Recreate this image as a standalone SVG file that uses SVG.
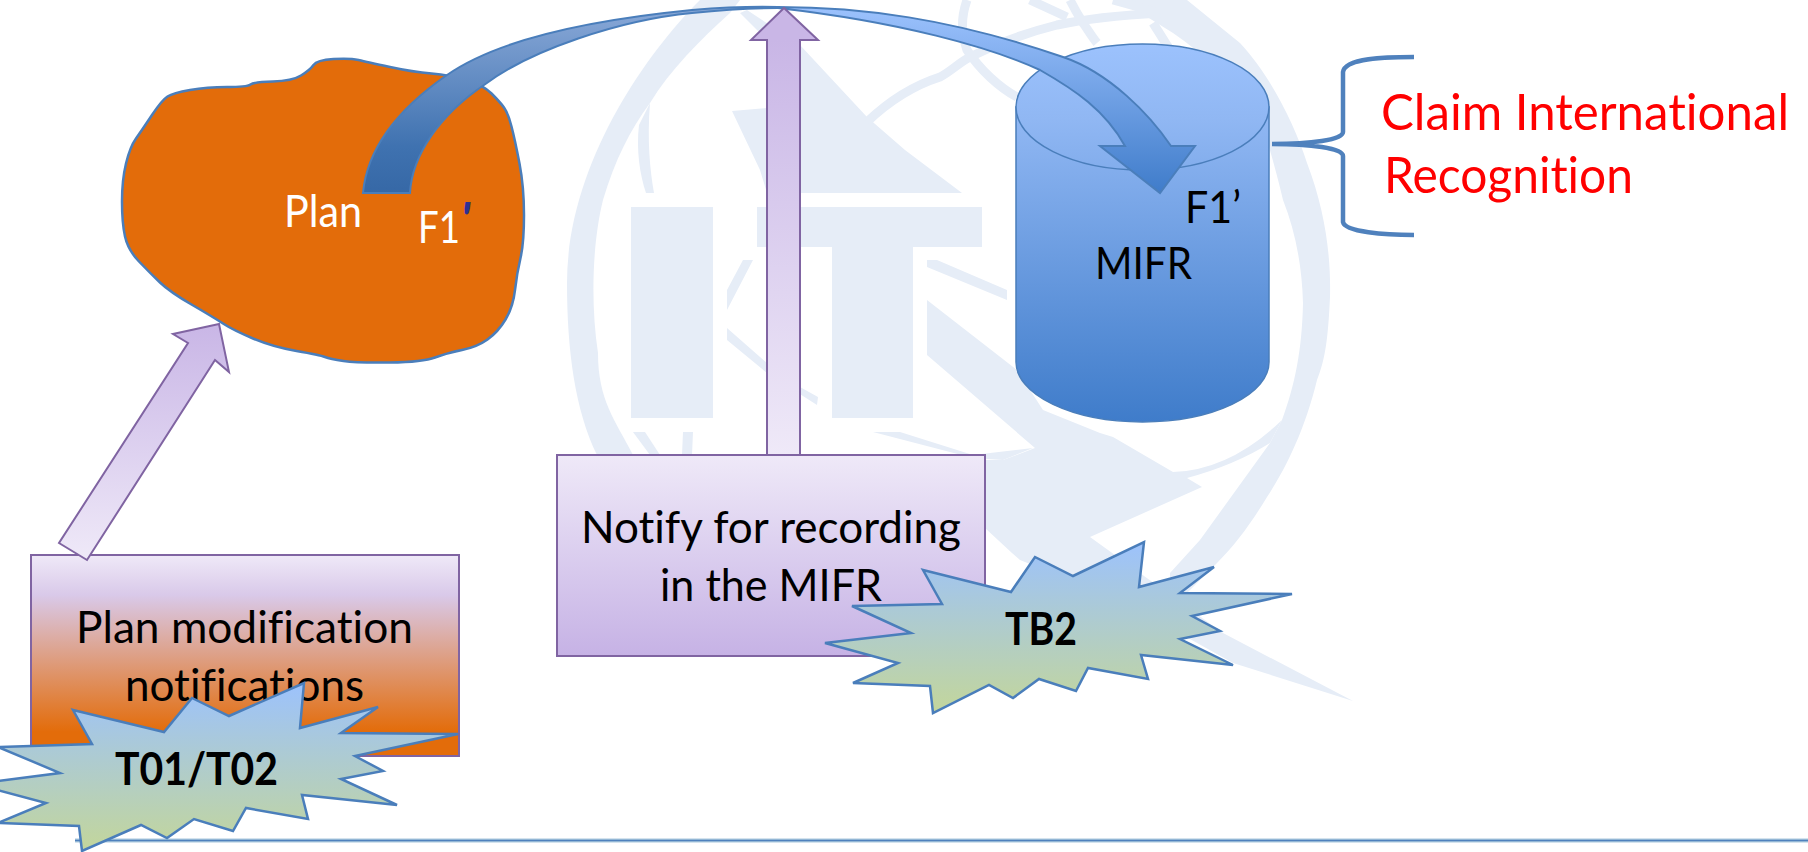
<svg xmlns="http://www.w3.org/2000/svg" width="1808" height="852" viewBox="0 0 1808 852">
<style>
text{font-family:"Lato","Noto Sans","Liberation Sans",sans-serif;font-size:45px;fill:#000;font-variant-ligatures:none}
.wm{fill:#e6edf7;stroke:none}
.wl{fill:none;stroke:#e6edf7;stroke-width:9}
.purple{stroke:#8064a2;stroke-width:2}
.burst{fill:url(#gBurst);stroke:#4a7ebb;stroke-width:2.500;stroke-linejoin:miter}
.b{font-weight:700}
.w{fill:#fff}
.r{fill:#f00;font-size:50px}
</style>
<defs>
<linearGradient id="gBurst" x1="0" y1="0" x2="0" y2="1"><stop offset="0" stop-color="#9cc2fd"/><stop offset="1" stop-color="#c3d69b"/></linearGradient>
<linearGradient id="gRectP" x1="0" y1="0" x2="0" y2="1"><stop offset="0" stop-color="#efe9f8"/><stop offset="1" stop-color="#c6b2e5"/></linearGradient>
<linearGradient id="gRectO" x1="0" y1="0" x2="0" y2="1"><stop offset="0" stop-color="#efe9f8"/><stop offset=".2" stop-color="#d9c9e9"/><stop offset=".88" stop-color="#e36c0a"/><stop offset="1" stop-color="#e36c0a"/></linearGradient>
<linearGradient id="gUp" gradientUnits="userSpaceOnUse" x1="0" y1="40" x2="0" y2="455"><stop offset="0" stop-color="#c9b6e6"/><stop offset="1" stop-color="#efe9f8"/></linearGradient>
<linearGradient id="gDiag" gradientUnits="userSpaceOnUse" x1="0" y1="324" x2="0" y2="560"><stop offset="0" stop-color="#c9b6e6"/><stop offset="1" stop-color="#efe9f8"/></linearGradient>
<linearGradient id="gCyl" gradientUnits="userSpaceOnUse" x1="0" y1="44" x2="0" y2="422"><stop offset="0" stop-color="#9cc2fd"/><stop offset=".2" stop-color="#90b7f3"/><stop offset="1" stop-color="#3f7cca"/></linearGradient>
<linearGradient id="gCurveL" gradientUnits="userSpaceOnUse" x1="0" y1="193" x2="0" y2="7"><stop offset="0" stop-color="#3668a6"/><stop offset=".25" stop-color="#3f72b0"/><stop offset="1" stop-color="#8aa9d8"/></linearGradient>
<linearGradient id="gCurveR" gradientUnits="userSpaceOnUse" x1="0" y1="7" x2="0" y2="193"><stop offset="0" stop-color="#9cc2fd"/><stop offset="1" stop-color="#3f7cca"/></linearGradient>
</defs>
<rect width="1808" height="852" fill="#fff"/>
<g id="watermark">
<rect class="wm" x="631" y="207" width="82" height="211"/>
<path class="wm" d="M757,207H982V247H913V418H832V247H757Z"/>
<path class="wm" d="M740,13L747,10L800,45L867,117L905,150L962,193H767L760,170L732,111L767,108V40Z"/>
<path class="wm" d="M700,0C640,60 567,170 567,283C567,350 575,410 597,455H633C615,420 598,400 598,353C590,300 593,240 603,200C615,160 630,130 650,103C670,70 700,40 730,13L740,0Z"/>
<path class="wm" d="M639,125C636,150 640,175 646,193H654C650,170 647,140 650,103Z"/>
<path class="wm" d="M633,432H645L660,455H650ZM683,432H693L692,455H682Z"/>
<path class="wm" d="M753,260H743L727,290V310ZM727,328V340L767,373L817,405L818,397L800,387L767,363ZM927,260H937L1007,290V300L927,267Z"/>
<path class="wm" d="M873,432H900L973,455L1033,448L1003,460L973,458Z"/>
<path class="wm" d="M1187,0L1240,43C1270,75 1295,125 1307,163C1325,210 1331,255 1330,297C1328,340 1325,360 1317,380C1305,430 1285,470 1267,497C1250,525 1235,545 1217,563L1170,610V573L1200,540L1270,443L1282,420C1295,385 1302,350 1303,303C1302,265 1295,230 1283,200C1275,165 1265,135 1260,113C1235,85 1205,55 1173,33L1120,0Z"/>
<path class="wm" d="M927,300L1017,370L1043,410L1100,433L1113,437L1173,472Q1230,470 1282,420L1270,443Q1235,465 1187,478L1202,487L1090,537L1223,633L1353,701L1233,663L1120,600L1020,560L1012,553L985,528V460H1003L1035,448L927,355Z"/>
<path class="wl" d="M867,122C890,100 915,85 940,77C950,72 960,62 970,57C1000,42 1025,33 1057,25C1090,18 1125,15 1160,13"/>
<path class="wl" d="M967,0C960,20 962,35 967,50C980,70 1000,88 1017,97"/>
<path class="wl" d="M1070,0C1075,10 1078,15 1083,23C1088,30 1092,37 1097,43"/>
<path class="wl" d="M1030,0L1067,17"/>
<path class="wl" d="M1113,0L1160,13"/>
<path class="wl" d="M1153,23L1170,50"/>
</g>
<g id="nodes">
<g id="plan">
<path d="M313.500,65Q317,60 333.500,59Q350,58 358.500,60Q367,62 390,67Q413,72 431.500,73.500Q450,75 466.500,80Q483,85 491.500,93.500Q500,102 504,107.500Q508,113 511.500,126.500Q515,140 519.500,163.500Q524,187 524,215Q524,243 520.500,258Q517,273 515,290Q513,307 505.500,319.500Q498,332 487.500,339.500Q477,347 462,350Q447,353 435,357.500Q423,362 390,362.500Q357,363 343.500,361Q330,359 325,357Q320,355 296.500,351Q273,347 253,338.500Q233,330 223,323.500Q213,317 191.500,304.500Q170,292 160,282.500Q150,273 139,261.500Q128,250 125,236.500Q122,223 122,201.500Q122,180 126,163.500Q130,147 136,138.500Q142,130 152,115Q162,100 167.500,96.500Q173,93 190,90Q207,87 227,87Q247,87 250.500,84.500Q254,82 273,81.500Q292,81 301,75.500Q310,70 313.500,65Z" fill="#e36c0a" stroke="#4a7ebb" stroke-width="2.500" stroke-linejoin="round"/>
<text class="w" x="284" y="227" textLength="78" lengthAdjust="spacingAndGlyphs">Plan</text>
<text class="w" y="243"><tspan x="418" textLength="42" lengthAdjust="spacingAndGlyphs">F1</tspan><tspan x="461" y="235" style="fill:#2e3192;font-weight:900;font-style:italic">'</tspan></text>
</g>
<g id="mifr">
<path d="M1016,107V362A126.500,60 0 0 0 1269,362V107Z" fill="url(#gCyl)" stroke="#4a7ebb" stroke-width="1.500"/>
<ellipse cx="1142.500" cy="107" rx="126.500" ry="63" fill="url(#gCyl)" stroke="#4a7ebb" stroke-width="1.500"/>
<text x="1185" y="223" textLength="56" lengthAdjust="spacingAndGlyphs">F1’</text>
<text x="1095" y="279" textLength="97" lengthAdjust="spacingAndGlyphs">MIFR</text>
</g>
<g id="plan-modification">
<rect class="purple" x="31" y="555" width="428" height="201" fill="url(#gRectO)"/>
<text x="76" y="643" textLength="337" lengthAdjust="spacingAndGlyphs">Plan modification</text>
<text x="125" y="701" textLength="239" lengthAdjust="spacingAndGlyphs">notifications</text>
</g>
<g id="notify">
<rect class="purple" x="557" y="455" width="428" height="201" fill="url(#gRectP)"/>
<text x="581" y="543" textLength="380" lengthAdjust="spacingAndGlyphs">Notify for recording</text>
<text x="660" y="601" textLength="222" lengthAdjust="spacingAndGlyphs">in the MIFR</text>
</g>
<g id="claim">
<text class="r" x="1381" y="130" textLength="408" lengthAdjust="spacingAndGlyphs">Claim International</text>
<text class="r" x="1384" y="193" textLength="249" lengthAdjust="spacingAndGlyphs">Recognition</text>
</g>
</g>
<g id="connectors">
<path d="M363,193C366,160 385,118 447,75C490,45 570,22 692,10Q740,6 778,7L778,8Q740,8 692,13C620,20 530,50 484,85C440,115 412,155 410,193Z" fill="url(#gCurveL)" stroke="#4a7ebb" stroke-width="2"/>
<path d="M778,7C860,7 950,18 1063,57C1110,73 1150,115 1171,146H1195L1160,193L1100,146H1125C1105,110 1075,90 1040,70C990,47 900,22 778,8Z" fill="url(#gCurveR)" stroke="#4a7ebb" stroke-width="2"/>
<path class="purple" d="M767,455V40H751L784,8L818,40H800V455Z" fill="url(#gUp)"/>
<path class="purple" d="M219,324L173,334L188,343L59,543L87,560L215,360L229,372Z" fill="url(#gDiag)"/>
<path d="M1414,57C1385,57 1345,58 1343,72V132C1343,140 1310,144 1272,144C1310,144 1343,148 1343,156V222C1345,232 1385,235 1414,235" fill="none" stroke="#4f81bd" stroke-width="4.500"/>
<line x1="75" y1="840.500" x2="1808" y2="840.500" stroke="#a9c8de" stroke-width="4"/>
<line x1="75" y1="840.500" x2="1808" y2="840.500" stroke="#4f81bd" stroke-width="1.500"/>
</g>
<g id="t01-t02">
<path class="burst" d="M73,710L164,732L192,698L229,716L304,683L300,728L378,707L341,733L458,734L355,756L383,771L341,779L397,805L302,795L308,819L246,808L233,831L194,819L167,838L141,825L82,851L79,826L-2,823L46,803L-25,784L60,773L-2,747L92,744Z"/>
<text class="b" x="115" y="785" textLength="163" lengthAdjust="spacingAndGlyphs">T01/T02</text>
</g>
<g id="tb2">
<path class="burst" d="M923,570L1011,592L1035,557L1073,576L1144,542L1139,587L1214,567L1180,593L1292,594L1192,616L1220,631L1180,639L1233,665L1141,655L1148,679L1088,668L1076,691L1039,679L1013,698L989,685L933,713L930,686L853,683L898,663L825,643L911,633L852,606L942,604Z"/>
<text class="b" x="1005" y="645" textLength="72" lengthAdjust="spacingAndGlyphs">TB2</text>
</g>
</svg>
